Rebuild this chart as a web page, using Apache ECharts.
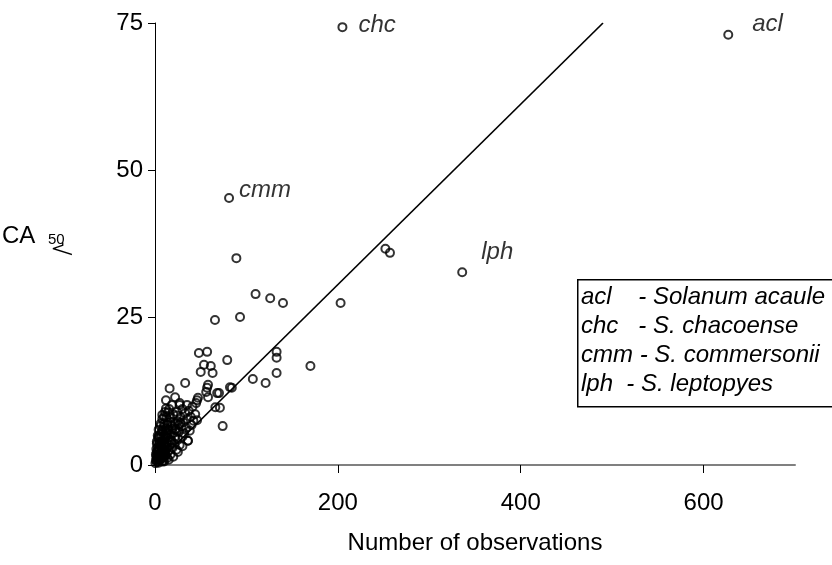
<!DOCTYPE html>
<html><head><meta charset="utf-8">
<script src="https://cdn.jsdelivr.net/npm/echarts@6/dist/echarts.min.js"></script>
<style>html,body{margin:0;padding:0;background:#fff}#c{width:832px;height:565px}</style>
</head><body><div id="c"></div>
<script>
const obsX = [89,110,126,140,203,252,257,65.6,93,48,57,79,53.6,61,50,63,133,133,133,170,107,121,33,57,84,70,46,58,66,71,74,27,35,46,36,58,68,82,47,56,
0.5,1,1.5,2,2,2.5,3,3,3.5,4,4,4.5,5,5,5.5,6,6,6.5,7,7,7.5,8,8,8.5,9,9,9.5,10,10,10.5,11,11,11.5,12,12,12.5,13,13,13.5,14,14,15,15,15.5,16,16,16.5,17,17,18,18.5,18.5,19,20,20,21,21,22,22,23,23.5,24,25,25,26,27,27,28,29,30,30,31,32,33,34,35,36,37,38,39,40,41,42,44,45,30,25,20,15,10,6,8,4,3,2,12,
1,2,3,4,5,6,7,8,9,10,11,12,13,14,16,18,1.5,3.5,5.5,7.5,9.5,11.5,13.5,2,4,6,8,10,12,14,17,19,22,24,26,28,5,7,9,11];
const obsY = [35.1,29,28.3,27.5,27.5,36.7,36,24.6,25.1,19,19.2,17.8,17,16.8,15.8,15.6,19.2,18.2,15.6,16.8,14.6,13.9,13.9,13.1,13.1,12.2,11,11.5,9.8,9.7,6.6,10.2,10.2,7.6,4.1,13.6,12.2,13.2,11.4,12.4,
0.3,0.8,1.5,0.5,2.2,1.1,0.7,3,1.8,0.4,2.6,3.8,1.2,4.5,2,0.9,3.3,5.2,1.6,2.8,4,0.6,6,2.4,3.6,1.3,5,2,7,3.1,9,4.4,1.7,6.2,2.6,8,3.8,5.4,1.2,7.2,4.6,2.4,6,9.5,3.4,13,5.2,8,1.8,4.2,10.2,6.6,2.9,5.4,8.6,3.6,7,4.8,11.5,6.1,2.6,9,4.4,7.4,5.6,10.5,3.4,8.1,6.5,4.8,9.5,7.2,5.4,8.8,6.3,7.8,4.1,9.2,5.8,8.2,6.8,9.9,7.5,8.6,10.5,3.2,2.2,1.4,0.9,0.6,7,8.5,6,5,4,11,
1.8,1.2,2.4,1.6,2.9,1.9,3.4,2.6,4.1,3.3,2.1,4.8,3.1,5.9,4.3,3.9,2.7,4.6,3.7,5.6,6.4,5.1,6.9,3.6,4.9,6.6,7.8,8.2,9.6,8.9,7.3,6.2,5.9,8.4,6.8,7.1,0.9,1.1,0.7,1.5];
const labelNames = ['acl','chc','cmm','lph'];
const labelX = [627,205,81,336];
const labelY = [73,74.3,45.3,32.7];
const fitX = [0,490];
const fitY = [0,75];
const xTickValues = [0,200,400,600];
const xRange = {min:0,max:700,interval:200};
const yTicks = {min:0,max:75,interval:25};
const legendLines = ['acl    - Solanum acaule','chc   - S. chacoense','cmm - S. commersonii','lph  - S. leptopyes'];

const FONT = '"Liberation Sans", Arial, sans-serif';
const FS = 24;
const chart = echarts.init(document.getElementById('c'), null, {renderer:'canvas'});
const labelOffsets = {acl:[14,-10], chc:[6,-2], cmm:[0,-8], lph:[9,-20]};
const labeledData = labelNames.map((n,i)=>({
  value:[labelX[i],labelY[i]],
  label:{show:true, formatter:n, position:'right', offset:labelOffsets[n],
    fontFamily:FONT, fontStyle:'italic', fontSize:FS, color:'#000'}
}));
const markerStyle = {color:'rgba(0,0,0,0)', borderColor:'#000', borderWidth:2};
chart.setOption({
  animation:false,
  backgroundColor:'#fff',
  grid:{left:155, right:37, top:23, bottom:100, containLabel:false, outerBoundsMode:'none'},
  xAxis:{type:'value', min:xRange.min, max:xRange.max, interval:xRange.interval,
    name:'Number of observations', nameLocation:'middle', nameGap:66, nameMoveOverlap:false,
    nameTextStyle:{fontFamily:FONT, fontSize:FS, color:'#000'},
    axisLine:{lineStyle:{color:'#808080', width:2}},
    axisTick:{show:true, inside:false, length:8, customValues:xTickValues, lineStyle:{color:'#000'}},
    axisLabel:{fontFamily:FONT, fontSize:FS, color:'#000', margin:26, showMaxLabel:false, hideOverlap:false,
      formatter:(v)=> xTickValues.indexOf(v) >= 0 ? String(v) : ''},
    splitLine:{show:false}},
  yAxis:{type:'value', min:yTicks.min, max:yTicks.max, interval:yTicks.interval,
    axisLine:{show:true, lineStyle:{color:'#000', width:1}},
    axisTick:{show:true, inside:false, length:7, lineStyle:{color:'#000'}},
    axisLabel:{fontFamily:FONT, fontSize:FS, color:'#000', margin:12},
    splitLine:{show:false}},
  series:[
    {type:'line', data:fitX.map((x,i)=>[x,fitY[i]]), symbol:'none', silent:true,
      lineStyle:{color:'#000', width:1.7}, z:1},
    {type:'scatter', data:obsX.map((x,i)=>[x,obsY[i]]), symbol:'circle', symbolSize:8,
      itemStyle:markerStyle, z:2},
    {type:'scatter', data:labeledData, symbol:'circle', symbolSize:8, itemStyle:markerStyle, z:3}
  ],
  graphic:[
    {type:'text', left:2, top:224, style:{text:'CA', font:FS+'px '+FONT, fill:'#000'}},
    {type:'text', left:48, top:232, style:{text:'50', font:'15px '+FONT, fill:'#000'}},
    {type:'text', x:72, y:242, rotation:-Math.PI/2, style:{text:'√', font:'24px '+FONT, fill:'#000'}},
    {type:'rect', left:577, top:279, shape:{width:262, height:127},
      style:{fill:'#fff', stroke:'#000', lineWidth:1.5}},
    ...legendLines.map((t,i)=>({type:'text', x:581, y:297+i*29,
      style:{text:t, font:'italic '+FS+'px '+FONT, fill:'#000', verticalAlign:'middle'}}))
  ]
});
</script></body></html>
